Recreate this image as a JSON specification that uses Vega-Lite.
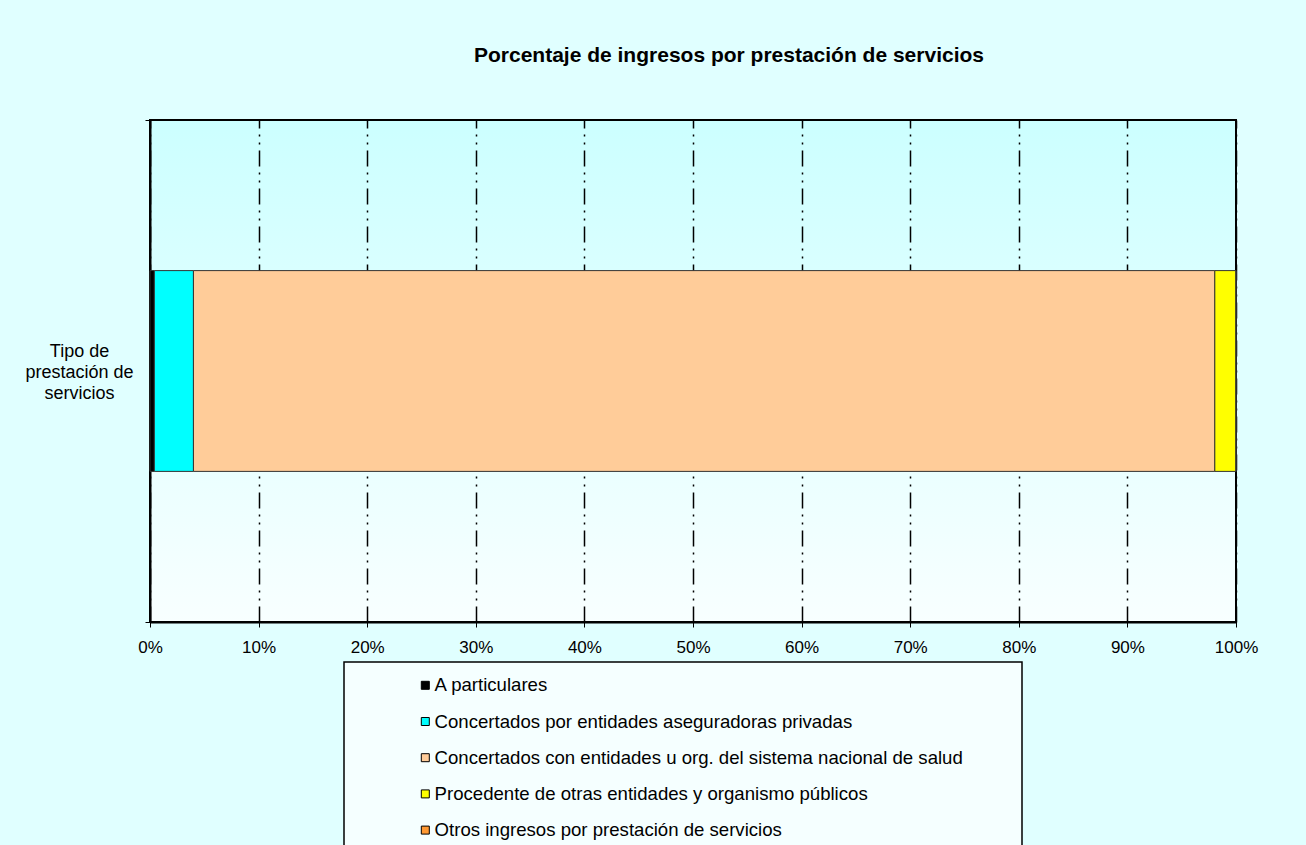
{
  "$schema": "https://vega.github.io/schema/vega-lite/v6.json",
  "width": 1086,
  "height": 502,
  "autosize": {"type": "none"},
  "padding": {"left": 150, "top": 120, "right": 70, "bottom": 223},
  "background": "#E0FFFF",
  "title": {
    "text": "Porcentaje de ingresos por prestación de servicios",
    "fontSize": 21,
    "fontWeight": "bold",
    "color": "black",
    "font": "Liberation Sans",
    "anchor": "middle",
    "dx": 36,
    "offset": 45
  },
  "data": {
    "values": [
      {"cat": "Tipo de prestación de servicios", "tipo": "A particulares", "pct": 0.4, "orden": 1},
      {"cat": "Tipo de prestación de servicios", "tipo": "Concertados por entidades aseguradoras privadas", "pct": 3.6, "orden": 2},
      {"cat": "Tipo de prestación de servicios", "tipo": "Concertados con entidades u org. del sistema nacional de salud", "pct": 94.05, "orden": 3},
      {"cat": "Tipo de prestación de servicios", "tipo": "Procedente de otras entidades y organismo públicos", "pct": 1.95, "orden": 4},
      {"cat": "Tipo de prestación de servicios", "tipo": "Otros ingresos por prestación de servicios", "pct": 0.0, "orden": 5}
    ]
  },
  "mark": {"type": "bar", "stroke": "#333333", "strokeWidth": 1, "height": {"band": 0.4}},
  "encoding": {
    "y": {
      "field": "cat",
      "type": "nominal",
      "scale": {"paddingInner": 0, "paddingOuter": 0},
      "axis": {
        "title": null,
        "labelExpr": "datum.index == 0 ? ['Tipo de', 'prestación de', 'servicios'] : ''",
        "labelAlign": "center",
        "labelBaseline": "middle",
        "labelPadding": 66,
        "labelOffset": -20,
        "labelFontSize": 18,
        "labelColor": "black",
        "labelLineHeight": 21,
        "labelLimit": 0,
        "tickBand": "extent",
        "tickSize": 5,
        "tickColor": "black",
        "tickWidth": 1,
        "domainColor": "black",
        "domainWidth": 2
      }
    },
    "x": {
      "field": "pct",
      "type": "quantitative",
      "stack": "normalize",
      "scale": {"domain": [0, 1], "nice": false},
      "axis": {
        "title": null,
        "format": ".0%",
        "values": [0, 0.1, 0.2, 0.3, 0.4, 0.5, 0.6, 0.7, 0.8, 0.9, 1],
        "grid": true,
        "gridColor": "black",
        "gridWidth": 1.5,
        "gridDash": [16, 6, 2, 6, 2, 6],
        "tickSize": 5,
        "tickColor": "black",
        "tickWidth": 1,
        "domainColor": "black",
        "domainWidth": 2,
        "labelFontSize": 17,
        "labelColor": "black",
        "labelPadding": 12,
        "labelFlush": false
      }
    },
    "color": {
      "field": "tipo",
      "type": "nominal",
      "sort": null,
      "scale": {
        "domain": [
          "A particulares",
          "Concertados por entidades aseguradoras privadas",
          "Concertados con entidades u org. del sistema nacional de salud",
          "Procedente de otras entidades y organismo públicos",
          "Otros ingresos por prestación de servicios"
        ],
        "range": ["#000000", "#00FFFF", "#FFCC99", "#FFFF00", "#FF9933"]
      },
      "legend": {
        "orient": "none",
        "legendX": 194,
        "legendY": 542,
        "direction": "vertical",
        "title": null,
        "padding": 14,
        "symbolOffset": 58,
        "strokeColor": "black",
        "fillColor": "#F5FFFF",
        "symbolType": "M-1,-1H1V1H-1ZM145,0",
        "symbolSize": 64,
        "symbolStrokeColor": "black",
        "symbolStrokeWidth": 1,
        "labelFontSize": 18.6,
        "labelColor": "black",
        "labelOffset": 0,
        "labelLimit": 0,
        "rowPadding": 17.2
      }
    },
    "order": {"field": "orden", "type": "quantitative"}
  },
  "config": {
    "font": "Liberation Sans",
    "legend": {"strokeWidth": 1.5},
    "view": {
      "stroke": "black",
      "strokeWidth": 2,
      "fill": {
        "gradient": "linear",
        "x1": 0, "y1": 0, "x2": 0, "y2": 1,
        "stops": [
          {"offset": 0, "color": "#CCFFFF"},
          {"offset": 1, "color": "#F8FFFF"}
        ]
      }
    }
  }
}
